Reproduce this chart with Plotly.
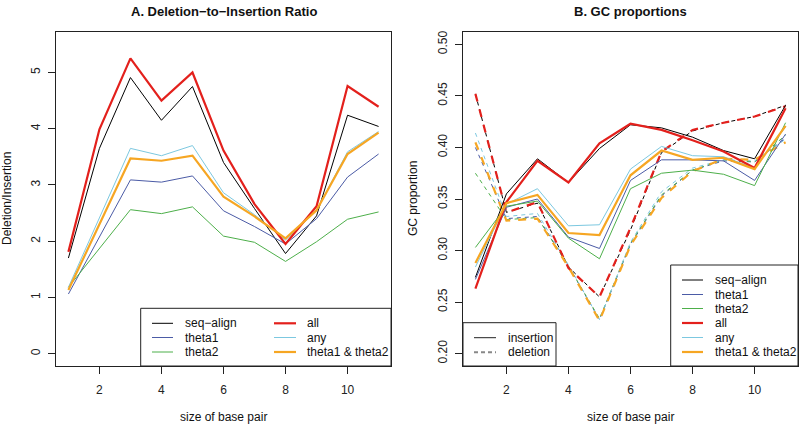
import plotly.graph_objects as go

# ---------------- data ----------------
bp = [1, 2, 3, 4, 5, 6, 7, 8, 9, 10, 11]

# Panel A: deletion-to-insertion ratio
ratio_seq_align = [1.70, 3.65, 4.91, 4.15, 4.75, 3.40, 2.58, 1.78, 2.45, 4.24, 4.04]
ratio_theta1 = [1.06, 2.08, 3.09, 3.05, 3.16, 2.54, 2.26, 1.95, 2.40, 3.14, 3.55]
ratio_theta2 = [1.18, 1.87, 2.56, 2.49, 2.61, 2.09, 1.98, 1.64, 1.99, 2.39, 2.52]
ratio_all = [1.81, 3.99, 5.25, 4.50, 5.00, 3.61, 2.66, 1.95, 2.62, 4.76, 4.39]
ratio_any = [1.18, 2.42, 3.65, 3.52, 3.70, 2.86, 2.47, 2.02, 2.55, 3.59, 3.95]
ratio_t12 = [1.13, 2.30, 3.47, 3.43, 3.52, 2.79, 2.44, 2.05, 2.55, 3.55, 3.93]

# Panel B: GC proportions (insertion)
ins_seq_align = [0.274, 0.355, 0.389, 0.366, 0.399, 0.422, 0.419, 0.410, 0.397, 0.389, 0.441]
ins_theta1 = [0.272, 0.342, 0.350, 0.313, 0.302, 0.368, 0.388, 0.388, 0.387, 0.368, 0.413]
ins_theta2 = [0.303, 0.343, 0.348, 0.312, 0.292, 0.360, 0.375, 0.378, 0.374, 0.363, 0.424]
ins_all = [0.263, 0.347, 0.387, 0.366, 0.404, 0.423, 0.417, 0.407, 0.396, 0.380, 0.438]
ins_any = [0.284, 0.345, 0.360, 0.324, 0.325, 0.379, 0.401, 0.392, 0.391, 0.380, 0.420]
ins_t12 = [0.288, 0.346, 0.354, 0.317, 0.315, 0.373, 0.397, 0.388, 0.390, 0.379, 0.421]

# Panel B: GC proportions (deletion)
del_seq_align = [0.452, 0.337, 0.346, 0.284, 0.255, 0.320, 0.395, 0.416, 0.424, 0.430, 0.441]
del_theta1 = [0.400, 0.331, 0.333, 0.285, 0.233, 0.306, 0.353, 0.378, 0.387, 0.386, 0.409]
del_theta2 = [0.375, 0.330, 0.332, 0.285, 0.234, 0.307, 0.354, 0.378, 0.388, 0.386, 0.412]
del_all = [0.452, 0.337, 0.347, 0.283, 0.255, 0.322, 0.396, 0.417, 0.424, 0.430, 0.440]
del_any = [0.414, 0.333, 0.336, 0.286, 0.233, 0.308, 0.357, 0.380, 0.388, 0.387, 0.408]
del_t12 = [0.405, 0.329, 0.331, 0.284, 0.232, 0.305, 0.351, 0.377, 0.389, 0.388, 0.405]

series_names = ["seq−align", "theta1", "theta2", "all", "any", "theta1 & theta2"]
x_ticks = [2, 4, 6, 8, 10]
ya_ticks = [0, 1, 2, 3, 4, 5]
yb_ticks = [0.20, 0.25, 0.30, 0.35, 0.40, 0.45, 0.50]
yb_labels = ["0.20", "0.25", "0.30", "0.35", "0.40", "0.45", "0.50"]

# ---------------- style ----------------
COL = {"seq−align": "#000000", "theta1": "#4B5BA6", "theta2": "#4DAF4A",
       "all": "#E3201C", "any": "#7CC8E0", "theta1 & theta2": "#F6A623"}
WID = {"seq−align": 1, "theta1": 1, "theta2": 1, "all": 2.2, "any": 1, "theta1 & theta2": 2.2}
FONT = "Liberation Sans, Arial, sans-serif"
W, H = 800, 425
L, R, T, B = 56, 2, 32, 59
PW, PH = W - L - R, H - T - B


def px(x):
    return (x - L) / PW


def py(y):
    return (H - B - y) / PH


ratio = [ratio_seq_align, ratio_theta1, ratio_theta2, ratio_all, ratio_any, ratio_t12]
ins = [ins_seq_align, ins_theta1, ins_theta2, ins_all, ins_any, ins_t12]
dele = [del_seq_align, del_theta1, del_theta2, del_all, del_any, del_t12]
order = [0, 1, 2, 4, 3, 5]  # draw thick ones on top

fig = go.Figure()
for i in order:
    n = series_names[i]
    fig.add_trace(go.Scatter(x=bp, y=ratio[i], mode="lines", xaxis="x", yaxis="y",
                             line=dict(color=COL[n], width=WID[n]), showlegend=False))
for i in order:
    n = series_names[i]
    dash = "8px,8px" if WID[n] > 1.5 else "4px,4px"
    fig.add_trace(go.Scatter(x=bp, y=dele[i], mode="lines", xaxis="x2", yaxis="y2",
                             line=dict(color=COL[n], width=WID[n], dash=dash), showlegend=False))
for i in order:
    n = series_names[i]
    fig.add_trace(go.Scatter(x=bp, y=ins[i], mode="lines", xaxis="x2", yaxis="y2",
                             line=dict(color=COL[n], width=WID[n]), showlegend=False))

dA = [0, px(391)]
dB = [px(463), 1]
axcommon = dict(showline=True, mirror=True, linecolor="#222", linewidth=1, ticks="outside",
                ticklen=7, tickcolor="#222", showgrid=False, zeroline=False,
                tickfont=dict(family=FONT, size=12, color="#222"))
fig.update_layout(
    width=W, height=H, margin=dict(l=L, r=R, t=T, b=B),
    paper_bgcolor="white", plot_bgcolor="white", showlegend=False,
    xaxis=dict(domain=dA, range=[0.6, 11.4], tickvals=x_ticks, anchor="y", ticklabelstandoff=6, **axcommon),
    yaxis=dict(domain=[0, 1], range=[-0.22, 5.72], tickvals=ya_ticks, anchor="x", tickangle=-90,
               ticklabelstandoff=3, **axcommon),
    xaxis2=dict(domain=dB, range=[0.6, 11.4], tickvals=x_ticks, anchor="y2", ticklabelstandoff=6, **axcommon),
    yaxis2=dict(domain=[0, 1], range=[0.188, 0.512], tickvals=yb_ticks, ticktext=yb_labels, anchor="x2",
                tickangle=-90, ticklabelstandoff=3, **axcommon),
)

shapes = []
ann = []
tf = dict(family=FONT, size=12, color="#111")


def box(x0, y0, x1, y1):
    shapes.append(dict(type="rect", xref="paper", yref="paper", x0=px(x0), x1=px(x1), y0=py(y1), y1=py(y0),
                       fillcolor="white", line=dict(color="#222", width=1), layer="above"))


def entry(x0, x1, y, tx, color, width, dash="solid", text=""):
    shapes.append(dict(type="line", xref="paper", yref="paper", x0=px(x0), x1=px(x1), y0=py(y), y1=py(y),
                       line=dict(color=color, width=width, dash=dash), layer="above"))
    ann.append(dict(xref="paper", yref="paper", x=px(tx), y=py(y), text=text, showarrow=False,
                    xanchor="left", yanchor="middle", font=tf))


# Legend panel A
box(140.7, 308.3, 391, 366)
rowsA = [323.3, 337.5, 352.0]
for k, n in enumerate(series_names):
    col = k // 3
    r = k % 3
    if col == 0:
        entry(152, 173, rowsA[r], 183, COL[n], WID[n], text=n)
    else:
        entry(274, 296, rowsA[r], 305, COL[n], WID[n], text=n)

# Legend panel B (series)
box(670.7, 265, 798, 366)
rowsB = [280, 294.5, 308.5, 323, 337.5, 352]
for k, n in enumerate(series_names):
    entry(682, 703, rowsB[k], 713, COL[n], WID[n], text=n)

# Legend panel B (type)
box(463, 322.7, 556, 366)
entry(474, 496, 337.7, 506, "#222", 1, text="insertion")
entry(474, 496, 352.3, 506, "#888", 2, dash="4px,3px", text="deletion")

# titles
ann.append(dict(xref="paper", yref="paper", x=px(223.5), y=py(12), text="<b>A. Deletion−to−Insertion Ratio</b>",
                showarrow=False, xanchor="center", yanchor="middle", font=dict(family=FONT, size=13, color="#111")))
ann.append(dict(xref="paper", yref="paper", x=px(630.5), y=py(12), text="<b>B. GC proportions</b>",
                showarrow=False, xanchor="center", yanchor="middle", font=dict(family=FONT, size=13, color="#111")))
ann.append(dict(xref="paper", yref="paper", x=px(223.5), y=py(417), text="size of base pair",
                showarrow=False, xanchor="center", yanchor="middle", font=tf))
ann.append(dict(xref="paper", yref="paper", x=px(630.5), y=py(417), text="size of base pair",
                showarrow=False, xanchor="center", yanchor="middle", font=tf))
ann.append(dict(xref="paper", yref="paper", x=px(7), y=py(199), text="Deletion/Insertion", textangle=-90,
                showarrow=False, xanchor="center", yanchor="middle", font=tf))
ann.append(dict(xref="paper", yref="paper", x=px(413), y=py(199), text="GC proportion", textangle=-90,
                showarrow=False, xanchor="center", yanchor="middle", font=tf))

fig.update_layout(shapes=shapes, annotations=ann)
fig.write_html("out.html", config={"displayModeBar": False},
               post_script="document.body.style.margin='0';document.body.style.padding='0';"
                           "document.body.style.overflow='hidden';")
